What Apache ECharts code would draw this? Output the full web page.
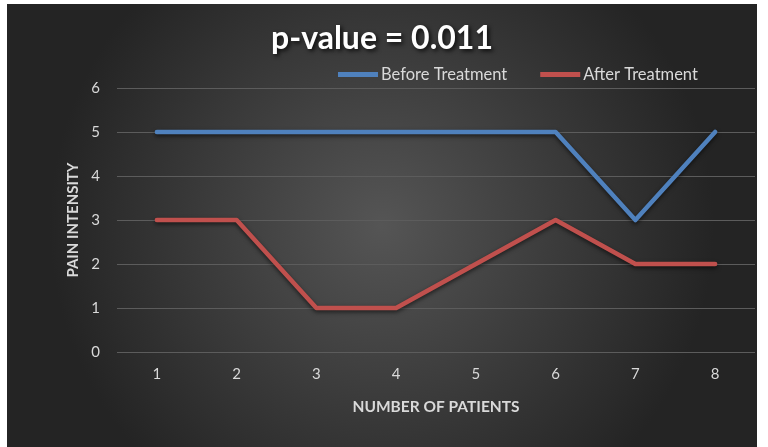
<!DOCTYPE html>
<html>
<head>
<meta charset="utf-8">
<script src="https://cdn.jsdelivr.net/npm/echarts@6/dist/echarts.min.js"></script>
<style>
html,body{margin:0;padding:0;background:#ffffff;width:768px;height:447px;overflow:hidden;}
#chart{position:absolute;left:7px;top:4px;width:750px;height:443px;}
</style>
</head>
<body>
<div id="chart"></div>
<script>
const categories = ['1','2','3','4','5','6','7','8'];
const beforeTreatment = [5,5,5,5,5,5,3,5];
const afterTreatment = [3,3,1,1,2,3,2,2];
const seriesNames = ['Before Treatment','After Treatment'];

const chart = echarts.init(document.getElementById('chart'));
const font = 'Lato, "Open Sans", sans-serif';
chart.setOption({
  animation: false,
  backgroundColor: {
    type: 'radial', x: 0.5, y: 0.5, r: 0.75,
    colorStops: [{offset: 0, color: '#555555'}, {offset: 1, color: '#242424'}]
  },
  title: {
    text: 'p-value = 0.011',
    left: 'center',
    top: 14,
    textStyle: {
      color: '#ffffff', fontSize: 32, fontWeight: 'bold', fontFamily: font,
      textShadowColor: 'rgba(0,0,0,0.8)', textShadowBlur: 4, textShadowOffsetX: 2, textShadowOffsetY: 2
    }
  },
  legend: {
    left: 326, top: 57,
    icon: 'rect', itemWidth: 40, itemHeight: 5, itemGap: 33,
    textStyle: {color: '#d9d9d9', fontSize: 16.5, fontFamily: font, padding: [0,0,0,-2]},
    data: seriesNames
  },
  grid: {left: 110, right: 2, top: 84, bottom: 95},
  xAxis: {
    type: 'category', data: categories, boundaryGap: true,
    axisLine: {show: false}, axisTick: {show: false},
    axisLabel: {color: '#d9d9d9', fontSize: 15, fontFamily: font, margin: 15},
    name: 'NUMBER OF PATIENTS', nameLocation: 'middle', nameGap: 47,
    nameTextStyle: {color: '#d9d9d9', fontSize: 15.5, fontWeight: 'bold', fontFamily: font}
  },
  yAxis: {
    type: 'value', min: 0, max: 6, interval: 1,
    axisLine: {show: false}, axisTick: {show: false},
    axisLabel: {color: '#d9d9d9', fontSize: 15, fontFamily: font, margin: 17},
    splitLine: {lineStyle: {color: '#5c5c5c', width: 1}},
    name: 'PAIN INTENSITY', nameLocation: 'middle', nameGap: 33, nameRotate: 90,
    nameTextStyle: {color: '#d9d9d9', fontSize: 15, fontWeight: 'bold', fontFamily: font}
  },
  series: [
    {
      name: seriesNames[0], type: 'line', data: beforeTreatment,
      symbol: 'none', color: '#4f81bd',
      lineStyle: {width: 4.5, color: '#4f81bd', shadowColor: 'rgba(0,0,0,0.6)', shadowBlur: 4, shadowOffsetY: 2, cap: 'round', join: 'round'}
    },
    {
      name: seriesNames[1], type: 'line', data: afterTreatment,
      symbol: 'none', color: '#c0504d',
      lineStyle: {width: 4.5, color: '#c0504d', shadowColor: 'rgba(0,0,0,0.6)', shadowBlur: 4, shadowOffsetY: 2, cap: 'round', join: 'round'}
    }
  ]
});
</script>
</body>
</html>
